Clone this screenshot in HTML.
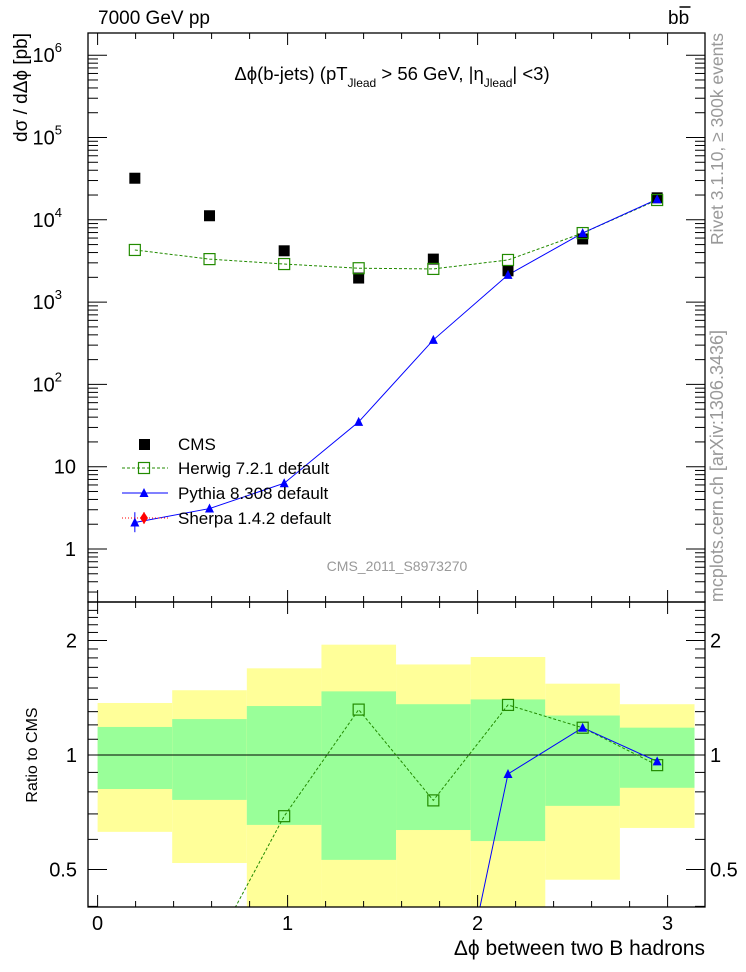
<!DOCTYPE html>
<html><head><meta charset="utf-8"><style>
html,body{margin:0;background:#fff;overflow:hidden;width:746px;height:972px;}
svg{display:block;font-family:"Liberation Sans",Arial,sans-serif;}
</style></head><body>
<svg id="c" width="746" height="972" viewBox="0 0 746 972"></svg>
<script>
const binEdges=[0,0.3927,0.7854,1.1781,1.5708,1.9635,2.3562,2.7489,3.1416];
const binCenters=[0.196,0.589,0.982,1.374,1.767,2.160,2.553,2.945];
const cmsValues=[32000,11200,4200,1960,3330,2400,5850,18500];
const herwigValues=[4300,3330,2900,2580,2530,3250,6900,17400];
const pythiaValues=[2.1,3.1,6.3,35,347,2140,6900,17800];
const pythiaErrLo=[1.6,2.8,5.8,33,340,2100,6800,17500];
const pythiaErrHi=[2.8,3.4,6.9,37,354,2180,7000,18100];
const yellowHi=[1.37,1.48,1.69,1.95,1.73,1.81,1.54,1.36];
const yellowLo=[0.628,0.52,0.3,0.3,0.3,0.3,0.47,0.643];
const greenHi=[1.185,1.243,1.345,1.47,1.36,1.40,1.27,1.18];
const greenLo=[0.814,0.762,0.655,0.53,0.635,0.594,0.735,0.82];
const xTickLabels=["0","1","2","3"];
const yTickLabels=["1","10","10^2","10^3","10^4","10^5","10^6"];
const ratioTickLabels=["0.5","1","2"];

const NS="http://www.w3.org/2000/svg";
const svg=document.getElementById('c');
const L=88,R=705,T=33,MID=602,B=907;
const X=v=>97.6+190*v;
const Y=v=>549-82.3*Math.log10(v);
const RY=r=>755-114.5*Math.log2(r);
function mk(tag,at,parent){const e=document.createElementNS(NS,tag);for(const k in at)e.setAttribute(k,at[k]);(parent||svg).appendChild(e);return e;}
function line(x1,y1,x2,y2,s,w,d){return mk('line',{x1,y1,x2,y2,stroke:s||'#000','stroke-width':w||1,'stroke-dasharray':d||'none'});}

const clipR=mk('clipPath',{id:'cr'});mk('rect',{x:L,y:MID,width:R-L,height:B-MID},clipR);
const clipU=mk('clipPath',{id:'cu'});mk('rect',{x:L,y:T,width:R-L,height:MID-T},clipU);
const gR=mk('g',{'clip-path':'url(#cr)'});

for(let i=0;i<8;i++){
  const x1=X(binEdges[i]),x2=X(binEdges[i+1]);
  const y=mk('rect',{x:x1,y:RY(yellowHi[i]),width:x2-x1,height:RY(yellowLo[i])-RY(yellowHi[i]),fill:'#ffff99'},gR);
  
  const g=mk('rect',{x:x1,y:RY(greenHi[i]),width:x2-x1,height:RY(greenLo[i])-RY(greenHi[i]),fill:'#99ff99'},gR);
  
}
mk('line',{x1:L,y1:RY(1),x2:R,y2:RY(1),stroke:'#000','stroke-width':1},gR);
const hr=herwigValues.map((v,i)=>v/cmsValues[i]);
const pr=pythiaValues.map((v,i)=>v/cmsValues[i]);
const hl=mk('polyline',{points:binCenters.map((c,i)=>X(c)+','+RY(hr[i])).join(' '),fill:'none',stroke:'#228b00','stroke-dasharray':'3,2'},gR);

const pl=mk('polyline',{points:binCenters.map((c,i)=>X(c)+','+RY(pr[i])).join(' '),fill:'none',stroke:'#0000ff'},gR);

function sq(g,x,y){return mk('rect',{x:x-5.5,y:y-5.5,width:11,height:11,fill:'none',stroke:'#228b00','stroke-width':1.2},g);}
function tri(g,x,y){return mk('polygon',{points:`${x-4.5},${y+4} ${x+4.5},${y+4} ${x},${y-5}`,fill:'#0000ff'},g);}
binCenters.forEach((c,i)=>{
  const s=sq(gR,X(c),RY(hr[i]));
  const t=tri(gR,X(c),RY(pr[i]));
});

const gU=mk('g',{'clip-path':'url(#cu)'});

const hu=mk('polyline',{points:binCenters.map((c,i)=>X(c)+','+Y(herwigValues[i])).join(' '),fill:'none',stroke:'#228b00','stroke-dasharray':'3,2'},gU);

const pu=mk('polyline',{points:binCenters.map((c,i)=>X(c)+','+Y(pythiaValues[i])).join(' '),fill:'none',stroke:'#0000ff'},gU);

binCenters.forEach((c,i)=>{
  const cm=mk('rect',{x:X(c)-5.5,y:Y(cmsValues[i])-5.5,width:11,height:11,fill:'#000'},gU);
  
  const s=sq(gU,X(c),Y(herwigValues[i]));
  const eb=mk('line',{x1:X(c),y1:Y(pythiaErrLo[i]),x2:X(c),y2:Y(pythiaErrHi[i]),stroke:'#0000ff'},gU);
  
  const t=tri(gU,X(c),Y(pythiaValues[i]));
});

mk('rect',{x:L,y:T,width:R-L,height:MID-T,fill:'none',stroke:'#000','stroke-width':1.3});
mk('rect',{x:L,y:MID,width:R-L,height:B-MID,fill:'none',stroke:'#000','stroke-width':1.3});
for(let k=0;k<=16;k++){const v=k*0.2;const x=X(v);if(x>R)break;const len=(k%5==0)?12:6;
  [[MID,-1],[T,1],[B,-1],[MID,1]].forEach(([y0,d])=>line(x,y0,x,y0+d*len));}
xTickLabels.forEach((s,i)=>{const t=mk('text',{x:X(i),y:930,'font-size':20,'text-anchor':'middle'});t.textContent=s;
  });
for(let d=-1;d<=6;d++){for(let m=1;m<10;m++){const y=Y(m*Math.pow(10,d));if(y<T||y>MID)continue;const len=m==1?19:10;
  line(L,y,L+len,y);line(R,y,R-len,y);}}
yTickLabels.forEach((s,i)=>{const y=Y(Math.pow(10,i));let t;
  if(s.includes('^')){t=mk('text',{x:62,y:y+7,'font-size':20,'text-anchor':'end'});t.textContent='10';
    const sp=mk('tspan',{dy:-10,'font-size':13},t);sp.textContent=s.split('^')[1];}
  else{t=mk('text',{x:76,y:y+7,'font-size':20,'text-anchor':'end'});t.textContent=s;}
  });
for(let r=0.4;r<=2.5;r+=0.1){const y=RY(r);if(y<MID||y>B)continue;const maj=[0.5,1,2].some(q=>Math.abs(q-r)<1e-6);const len=maj?19:10;
  line(L,y,L+len,y);line(R,y,R-len,y);}
ratioTickLabels.forEach(s=>{const y=RY(parseFloat(s));
  const t=mk('text',{x:77,y:y+7,'font-size':20,'text-anchor':'end'});t.textContent=s;
  const t2=mk('text',{x:710,y:y+7,'font-size':20});t2.textContent=s;});

const lg=mk('g',{});
mk('rect',{x:139,y:439,width:11,height:11,fill:'#000'},lg);
line(122,468,168,468,'#228b00',1,'3,2');lg.appendChild(svg.lastChild);sq(lg,144,468);
line(122,493,168,493,'#0000ff');lg.appendChild(svg.lastChild);tri(lg,144,493);
line(122,518,168,518,'#ff0000',1,'1,2');lg.appendChild(svg.lastChild);
mk('polygon',{points:'144,512 148,518 144,524 140,518',fill:'#ff0000'},lg);line(144,512,144,524,'#ff0000');lg.appendChild(svg.lastChild);
[['CMS',444],['Herwig 7.2.1 default',468],['Pythia 8.308 default',493],['Sherpa 1.4.2 default',518]].forEach(([s,y])=>{
  const t=mk('text',{x:178,y:y+6,'font-size':17},lg);t.textContent=s;});

function txt(s,at,name){const t=mk('text',at);t.innerHTML=s;return t;}
txt('bb',{x:668,y:24,'font-size':19},'process-label');
mk('line',{x1:679.5,y1:7,x2:690.5,y2:7,stroke:'#000','stroke-width':1.5});
txt('7000 GeV pp',{x:98,y:24,'font-size':19},'energy-label');
txt('Δϕ(b-jets) (pT<tspan dy="7" font-size="12">Jlead</tspan><tspan dy="-7"> &gt;  56 GeV, |η</tspan><tspan dy="7" font-size="12">Jlead</tspan><tspan dy="-7">| &lt;3)</tspan>',{x:392,y:80,'font-size':18.5,'text-anchor':'middle'},'plot-title');
txt('CMS_2011_S8973270',{x:397,y:571,'font-size':14,fill:'#999','text-anchor':'middle'},'analysis-id');
txt('dσ / dΔϕ [pb]',{x:0,y:0,'font-size':19,'text-anchor':'end',transform:'translate(27,33) rotate(-90)'},'y-axis-title');
txt('Ratio to CMS',{x:0,y:0,'font-size':16,'text-anchor':'middle',transform:'translate(37,755) rotate(-90)'},'ratio-axis-title');
txt('Δϕ between two B hadrons',{x:705,y:955,'font-size':21,'text-anchor':'end'},'x-axis-title');
txt('Rivet 3.1.10, ≥ 300k events',{x:0,y:0,'font-size':17.5,fill:'#999','text-anchor':'end',transform:'translate(723,33) rotate(-90)'},'rivet-label');
txt('mcplots.cern.ch [arXiv:1306.3436]',{x:0,y:0,'font-size':18,fill:'#999','text-anchor':'end',transform:'translate(723,330) rotate(-90)'},'mcplots-label');
</script>
</body></html>
